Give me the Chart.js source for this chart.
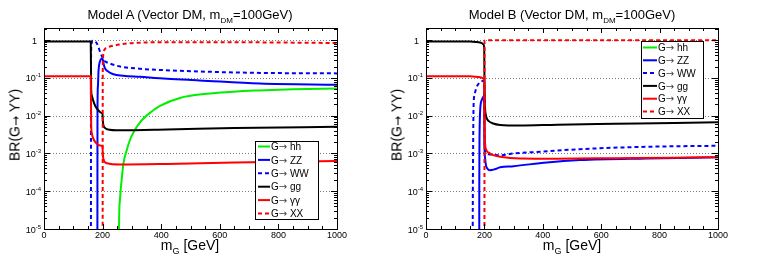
<!DOCTYPE html>
<html><head><meta charset="utf-8">
<script src="https://cdn.jsdelivr.net/npm/chart.js@4.4.1/dist/chart.umd.min.js"></script>
<style>
html,body{margin:0;padding:0;background:#fff;}
body{width:763px;height:257px;overflow:hidden;position:relative;font-family:"Liberation Sans",Arial,sans-serif;color:#000;}
.panel{position:absolute;top:0;height:257px;}
.panel canvas{position:absolute;left:0;top:0;}
.title{position:absolute;top:8px;font-size:13px;line-height:13px;white-space:nowrap;transform:translateX(-50%);}
.xl{position:absolute;top:238px;font-size:14px;line-height:14px;white-space:nowrap;transform:translateX(-50%);}
.yl{position:absolute;font-size:14px;line-height:14px;white-space:nowrap;transform:translate(-50%,-50%) rotate(-90deg);}
.sb{font-size:8px;position:relative;top:4px;}
.sb2{font-size:9px;position:relative;top:4px;}
.ar{font-family:"DejaVu Sans",sans-serif;font-size:12px;}
</style>
</head><body>
<div class="panel" style="left:0;width:380px;"><canvas id="cA" width="380" height="257"></canvas>
  <div class="title" style="left:190px;">Model A (Vector DM, m<span class="sb">DM</span>=100GeV)</div>
  <div class="xl" style="left:190px;">m<span class="sb2">G</span> [GeV]</div>
  <div class="yl" style="left:15px;top:125px;">BR(G<span class="ar">→</span> YY)</div>
</div>
<div class="panel" style="left:380px;width:383px;"><canvas id="cB" width="383" height="257"></canvas>
  <div class="title" style="left:192px;">Model B (Vector DM, m<span class="sb">DM</span>=100GeV)</div>
  <div class="xl" style="left:192px;">m<span class="sb2">G</span> [GeV]</div>
  <div class="yl" style="left:17px;top:125px;">BR(G<span class="ar">→</span> YY)</div>
</div>
<script>
// ---------------- data (m_G in GeV, branching ratios) ----------------
const LABEL_PARTS = ['hh','ZZ','WW','gg','\u03b3\u03b3','XX'];   // legend: "G→ " + part
const X_TICKS = [0,200,400,600,800,1000];
const Y_TICK_EXP = [0,-1,-2,-3,-4,-5];

// Model A
const A_hh_m  = [254,256,259,265,271,282,293,310,327,362,396,464,555,669,737,850,1000];
const A_hh_br = [1e-9,1e-5,5.8e-5,2e-4,5.4e-4,1.2e-3,2.24e-3,4.17e-3,6.6e-3,0.012,0.0182,0.0295,0.038,0.0447,0.0468,0.05,0.0525];
const A_zz_m  = [182,182.5,184,186,189,193,197,200,202,205,210,215,237,270,327,420,530,737,1000];
const A_zz_br = [1e-9,0.01,0.06,0.15,0.24,0.3,0.32,0.32,0.27,0.21,0.17,0.155,0.125,0.115,0.107,0.095,0.086,0.071,0.066];
const A_ww_m  = [160,160.5,162,165,172,180,186,191,196,200,203,210,225,260,327,400,530,737,1000];
const A_ww_br = [1e-9,0.3,0.8,0.97,0.95,0.83,0.65,0.5,0.4,0.34,0.3,0.27,0.24,0.2,0.175,0.162,0.148,0.136,0.132];
const A_gg_m  = [0,159.5,161,163,168,175,185,195,199.5,201,203,207,215,260,420,650,1000];
const A_gg_br = [0.92,0.92,0.05,0.035,0.025,0.018,0.014,0.012,0.0115,0.007,0.0055,0.0048,0.0044,0.0041,0.0043,0.0047,0.0051];
const A_aa_m  = [0,159.5,161,163,168,175,185,195,199.5,201,203,207,215,260,420,650,1000];
const A_aa_br = [0.11,0.11,0.006,0.0035,0.0025,0.002,0.0017,0.0016,0.00155,0.0009,0.0007,0.0006,0.00055,0.00051,0.00053,0.00058,0.00063];
const A_xx_m  = [200,200.5,201,203,208,214,225,260,305,420,650,850,1000];
const A_xx_br = [1e-9,0.1,0.3,0.45,0.58,0.63,0.68,0.77,0.84,0.88,0.88,0.86,0.84];

// Model B
const B_hh_m  = [];
const B_hh_br = [];
const B_zz_m  = [182,182.5,184,186,191,197,199.5,200.5,202,205,210,219,235,254,300,414,527,755,1000];
const B_zz_br = [1e-9,1e-4,0.006,0.016,0.026,0.032,0.034,0.0015,0.0008,0.0005,0.0004,0.00036,0.00038,0.00043,0.00046,0.00058,0.00067,0.00074,0.00079];
const B_ww_m  = [159,160,161,163,166,172,180,188,195,199.5,200.5,203,208,215,254,300,400,527,750,1000];
const B_ww_br = [1e-9,1e-5,5e-4,0.019,0.035,0.054,0.07,0.08,0.083,0.083,0.002,0.0012,0.001,0.00095,0.0009,0.001,0.00112,0.0013,0.0015,0.0016];
const B_gg_m  = [0,150,170,185,192,197,199.5,200.5,201.5,203,207,215,230,254,322,450,650,850,1000];
const B_gg_br = [0.92,0.92,0.9,0.87,0.83,0.76,0.6,0.04,0.02,0.013,0.009,0.0072,0.0062,0.0057,0.0055,0.0058,0.0061,0.0064,0.0067];
const B_aa_m  = [0,150,170,185,192,197,199.5,200.5,201.5,203,207,215,230,254,322,450,650,850,1000];
const B_aa_br = [0.11,0.11,0.108,0.104,0.1,0.095,0.09,0.005,0.0025,0.0016,0.0012,0.00105,0.0009,0.00082,0.00074,0.00073,0.00075,0.00077,0.0008];
const B_xx_m  = [200,200.5,201,220,500,1000];
const B_xx_br = [1e-9,0.9,0.98,0.99,0.99,0.99];

// ---------------- styling ----------------
const STYLES = [
  {color:'#00ee00', dash:[]},
  {color:'#0000ff', dash:[]},
  {color:'#0000ff', dash:[4,3]},
  {color:'#000000', dash:[]},
  {color:'#ff0000', dash:[]},
  {color:'#ff0000', dash:[4,3]}
];
const FONT = '"Liberation Sans", Arial, sans-serif';
const ARROW_FONT = '"DejaVu Sans", sans-serif';

function pts(m, br){ return m.map((v,i)=>({x:v, y:br[i]})); }

const framePlugin = {
  id:'frame',
  beforeDatasetsDraw(chart){
    const {ctx, chartArea:a, scales:{y}} = chart;
    ctx.save();
    ctx.strokeStyle = '#7a7a7a'; ctx.lineWidth = 1; ctx.setLineDash([1,2]);
    Y_TICK_EXP.forEach(e=>{
      if (e === -5) return;
      const py = Math.round(y.getPixelForValue(Math.pow(10,e))) + 0.5;
      ctx.beginPath(); ctx.moveTo(a.left, py); ctx.lineTo(a.right, py); ctx.stroke();
    });
    ctx.restore();
  },
  afterDatasetsDraw(chart){
    const {ctx, chartArea:a, scales:{x, y}} = chart;
    ctx.save();
    ctx.setLineDash([]); ctx.strokeStyle = '#000'; ctx.lineWidth = 1;
    ctx.beginPath();
    for (let v = 0; v <= 1000; v += 50) {
      const px = Math.round(x.getPixelForValue(v)) + 0.5;
      const L = (v % 200 === 0) ? 5 : 3;
      ctx.moveTo(px, a.bottom); ctx.lineTo(px, a.bottom - L);
      ctx.moveTo(px, a.top); ctx.lineTo(px, a.top + L);
    }
    for (let e = -5; e <= 0; e++) {
      for (let k = 1; k <= 9; k++) {
        const v = k * Math.pow(10, e);
        if (v < y.min || v > y.max) continue;
        const py = Math.round(y.getPixelForValue(v)) + 0.5;
        const L = (k === 1) ? 6 : 3;
        ctx.moveTo(a.left, py); ctx.lineTo(a.left + L, py);
        ctx.moveTo(a.right, py); ctx.lineTo(a.right - L, py);
      }
    }
    ctx.stroke();
    ctx.strokeRect(Math.round(a.left)+0.5, Math.round(a.top)+0.5, Math.round(a.right-a.left), Math.round(a.bottom-a.top));
    ctx.fillStyle = '#000'; ctx.textBaseline = 'alphabetic';
    Y_TICK_EXP.forEach(e=>{
      const py = y.getPixelForValue(Math.pow(10,e));
      if (e === 0) {
        ctx.font = '9px ' + FONT; ctx.textAlign = 'right';
        ctx.fillText('1', a.left - 7, py + 3.5);
      } else {
        ctx.font = '6px ' + FONT; ctx.textAlign = 'right';
        const sup = '-' + (-e);
        const sw = ctx.measureText(sup).width;
        ctx.fillText(sup, a.left - 3, py - 0.5);
        ctx.font = '9px ' + FONT;
        ctx.fillText('10', a.left - 3 - sw, py + 3.5);
      }
    });
    ctx.restore();
  },
  afterDraw(chart){
    const b = chart.options.plugins.boxLegend;
    if (!b) return;
    const {ctx} = chart;
    ctx.save();
    ctx.fillStyle = '#fff'; ctx.fillRect(b.x, b.y, b.w, b.h);
    ctx.setLineDash([]); ctx.strokeStyle = '#000'; ctx.lineWidth = 1;
    ctx.strokeRect(b.x + 0.5, b.y + 0.5, b.w, b.h);
    ctx.textAlign = 'left'; ctx.textBaseline = 'alphabetic';
    chart.data.datasets.forEach((ds, i)=>{
      const cy = b.row0 + i * b.dy;
      ctx.strokeStyle = ds.borderColor; ctx.lineWidth = 2; ctx.setLineDash(ds.borderDash);
      ctx.beginPath(); ctx.moveTo(b.lx0, cy); ctx.lineTo(b.lx1, cy); ctx.stroke();
      ctx.fillStyle = '#000';
      let tx = b.tx; const base = cy + 3.6;
      ctx.font = b.font + 'px ' + FONT; ctx.fillText('G', tx, base); tx += ctx.measureText('G').width;
      ctx.font = b.font + 'px ' + ARROW_FONT; ctx.fillStyle = '#444'; ctx.fillText('\u2192', tx, base); tx += ctx.measureText('\u2192').width;
      ctx.fillStyle = '#000';
      ctx.font = b.font + 'px ' + FONT; ctx.fillText(' ' + ds.part, tx, base);
    });
    ctx.restore();
  }
};

function makeChart(id, series, area, legend){
  const canvas = document.getElementById(id);
  const W = canvas.width, H = canvas.height;
  const datasets = series.map((s, i)=>({
    label: 'G\u2192 ' + LABEL_PARTS[i],
    part: LABEL_PARTS[i],
    data: pts(s[0], s[1]),
    borderColor: STYLES[i].color,
    borderDash: STYLES[i].dash,
    borderWidth: 2,
    pointRadius: 0,
    fill: false,
    tension: 0,
    cubicInterpolationMode: 'monotone',
    order: 5 - i
  }));
  return new Chart(canvas, {
    type: 'line',
    data: { datasets },
    options: {
      responsive: false, animation: false, devicePixelRatio: 1,
      layout: { padding: { left: 0, top: area.top, right: W - area.right, bottom: 0 } },
      plugins: { legend: {display:false}, tooltip: {enabled:false}, title: {display:false}, boxLegend: legend },
      scales: {
        x: {
          type: 'linear', min: 0, max: 1000,
          afterBuildTicks: s => { s.ticks = X_TICKS.map(v=>({value:v})); },
          afterFit: s => { s.height = H - area.bottom; },
          ticks: { font: {size: 9, family: FONT}, color: '#000', padding: 1, maxRotation: 0, autoSkip: false,
                   callback: v => String(v) },
          grid: { display: false, drawTicks: false },
          border: { display: false }
        },
        y: {
          type: 'logarithmic', min: 1e-5, max: 2.1,
          afterFit: s => { s.width = area.left; },
          ticks: { display: false },
          grid: { display: false, drawTicks: false },
          border: { display: false }
        }
      }
    },
    plugins: [framePlugin]
  });
}

makeChart('cA',
  [[A_hh_m,A_hh_br],[A_zz_m,A_zz_br],[A_ww_m,A_ww_br],[A_gg_m,A_gg_br],[A_aa_m,A_aa_br],[A_xx_m,A_xx_br]],
  {left:44, right:337, top:28, bottom:229},
  {x:255, y:141, w:63, h:78, row0:146.5, dy:13.4, lx0:258, lx1:270, tx:271, font:10});

makeChart('cB',
  [[B_hh_m,B_hh_br],[B_zz_m,B_zz_br],[B_ww_m,B_ww_br],[B_gg_m,B_gg_br],[B_aa_m,B_aa_br],[B_xx_m,B_xx_br]],
  {left:46, right:338, top:28, bottom:229},
  {x:261, y:41, w:62, h:77, row0:47.5, dy:12.8, lx0:263, lx1:277, tx:278, font:10});
</script>
</body></html>
